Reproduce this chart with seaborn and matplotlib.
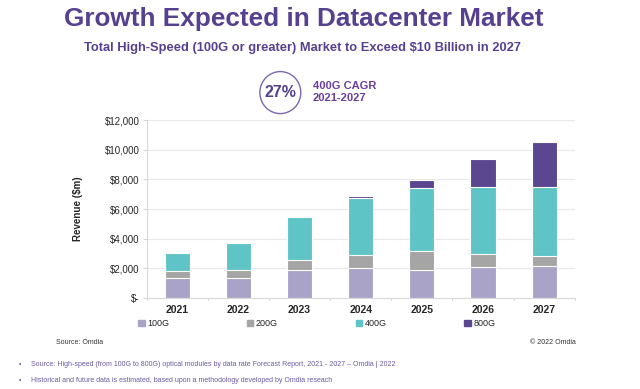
import numpy as np
import pandas as pd
import seaborn as sns
import matplotlib.pyplot as plt
from matplotlib.patches import Ellipse, Rectangle
from matplotlib.ticker import FuncFormatter

# values ($m)
years = ['2021', '2022', '2023', '2024', '2025', '2026', '2027']
g100 = [1350, 1350, 1900, 2000, 1860, 2060, 2150]
g200 = [490, 550, 630, 880, 1340, 920, 700]
g400 = [1190, 1800, 2960, 3880, 4200, 4490, 4640]
g800 = [0, 0, 0, 100, 540, 1900, 3030]
series_names = ['100G', '200G', '400G', '800G']
colors = ['#aaa3c8', '#a5a5a5', '#5fc4c6', '#5b4690']
purple = '#55418f'

sns.set_style('white')
plt.rcParams['font.family'] = ['Liberation Sans', 'DejaVu Sans']

df = pd.DataFrame({'year': years, '100G': g100, '200G': g200,
                   '400G': g400, '800G': g800})

fig = plt.figure(figsize=(6.4, 3.89), dpi=100)
ax = fig.add_axes([0.229, 0.234, 0.669, 0.457])

# stacked bars drawn layer by layer from the cumulative sums
cum = df[series_names].cumsum(axis=1)
for name, col in reversed(list(zip(series_names, colors))):
    sns.barplot(x=df['year'], y=cum[name], color=col, ax=ax, width=0.41,
                edgecolor='white', linewidth=0.8, saturation=1, legend=False)

ax.set_ylim(0, 12000)
ax.set_yticks(np.arange(0, 12001, 2000))
ax.yaxis.set_major_formatter(FuncFormatter(lambda v, p: '$-' if v == 0 else f'${v:,.0f}'))
ax.yaxis.grid(True, color='#e8e8e8', linewidth=0.8)
ax.set_axisbelow(True)
ax.set_xlabel('')
ax.set_ylabel('Revenue ($m)', fontsize=7, fontweight='bold', labelpad=16)
for s in ['top', 'right']:
    ax.spines[s].set_visible(False)
ax.spines['left'].set_color('#d9d9d9')
ax.spines['bottom'].set_color('#d9d9d9')
ax.tick_params(axis='y', labelsize=7, length=3, color='#d9d9d9', left=True, pad=2)
ax.tick_params(axis='x', labelsize=7.5, length=0, pad=5)
for t in ax.get_xticklabels():
    t.set_fontweight('bold')
# category separator ticks on the x axis
for i in range(len(years) + 1):
    ax.plot([i - 0.5, i - 0.5], [0, -150], color='#d9d9d9', lw=0.8, clip_on=False)
ax.set_xlim(-0.5, len(years) - 0.5)

# legend
handles = [Rectangle((0, 0), 1, 1, color=c) for c in colors]
fig.legend(handles, series_names, loc='center', bbox_to_anchor=(0.495, 0.168),
           ncol=4, frameon=False, fontsize=6.5, handlelength=0.7, handleheight=0.7,
           handletextpad=0.3, columnspacing=8.6)

# titles
fig.text(0.475, 0.952, 'Growth Expected in Datacenter Market', ha='center', va='center',
         fontsize=18.8, fontweight='bold', color=purple)
fig.text(0.473, 0.876, 'Total High-Speed (100G or greater) Market to Exceed $10 Billion in 2027',
         ha='center', va='center', fontsize=9.3, fontweight='bold', color=purple)
fig.patches.append(Ellipse((0.438, 0.762), 0.064, 0.108, transform=fig.transFigure,
                           fill=False, edgecolor='#7b68b0', linewidth=1))
fig.text(0.438, 0.762, '27%', ha='center', va='center', fontsize=11.5,
         fontweight='bold', color=purple)
fig.text(0.489, 0.764, '400G CAGR\n2021-2027', ha='left', va='center', fontsize=8,
         fontweight='bold', color='#6a3fa0', linespacing=1.25)

# sources
fig.text(0.087, 0.12, 'Source: Omdia', fontsize=5, color='#333333', va='center')
fig.text(0.9, 0.12, '© 2022 Omdia', fontsize=5, color='#333333', va='center', ha='right')
fig.text(0.03, 0.062, '•', fontsize=5, color='#6a5aa0', va='center')
fig.text(0.048, 0.062, 'Source: High-speed (from 100G to 800G) optical modules by data rate '
         'Forecast Report, 2021 - 2027 – Omdia | 2022', fontsize=5, color='#6a5aa0', va='center')
fig.text(0.03, 0.022, '•', fontsize=5, color='#6a5aa0', va='center')
fig.text(0.048, 0.022, 'Historical and future data is estimated, based upon a methodology '
         'developed by Omdia reseach', fontsize=5, color='#6a5aa0', va='center')

fig.savefig('out.png', dpi=100)
